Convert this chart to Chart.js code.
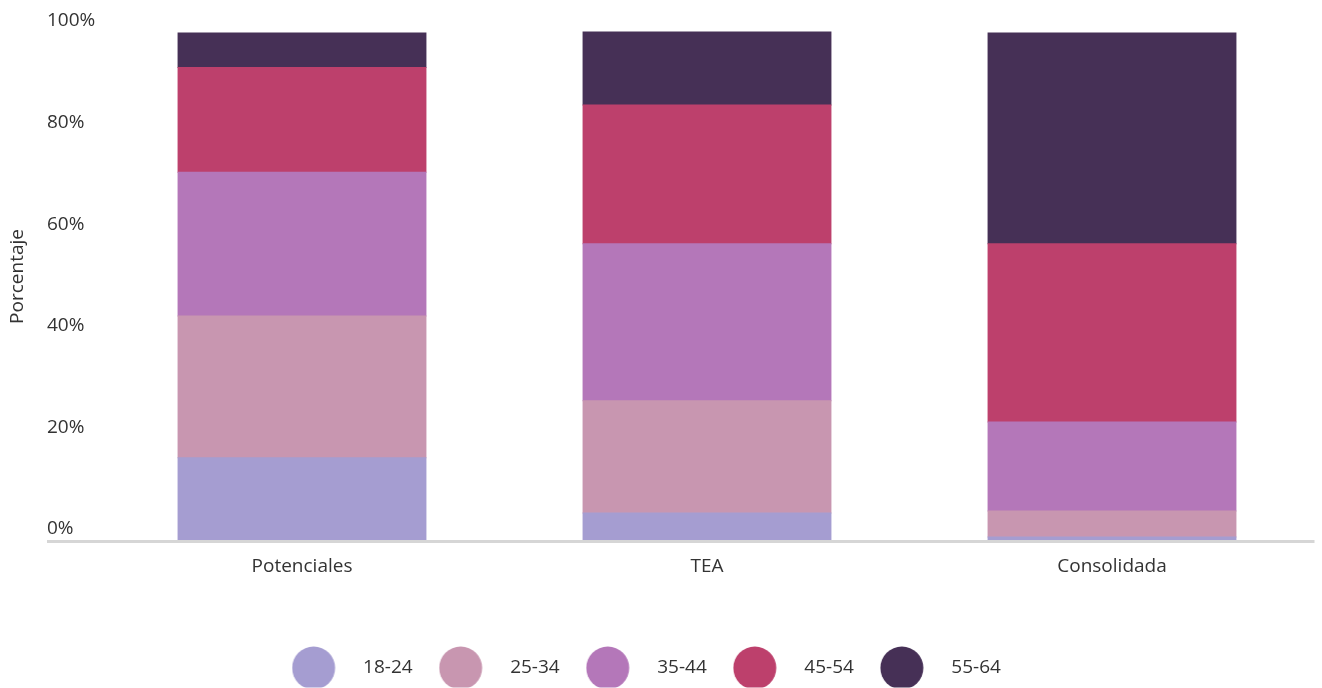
<!DOCTYPE html>
<html>
<head>
<meta charset="utf-8">
<script src="https://cdn.jsdelivr.net/npm/chart.js@4.4.1/dist/chart.umd.min.js"></script>
<style>
html,body{margin:0;padding:0;background:#fff;}
#wrap{width:1322px;height:688px;}
</style>
</head>
<body>
<div id="wrap"><canvas id="c" width="1322" height="688"></canvas></div>
<script>
const categories = ['Potenciales', 'TEA', 'Consolidada'];
const seriesNames = ['18-24', '25-34', '35-44', '45-54', '55-64'];
const s18_24 = [16.4, 5.5, 0.8];
const s25_34 = [27.9, 22.1, 5.1];
const s35_44 = [28.3, 30.9, 17.5];
const s45_54 = [20.6, 27.3, 35.1];
const s55_64 = [6.8, 14.4, 41.5];
const yTicks = [0, 20, 40, 60, 80, 100];
const yTitle = 'Porcentaje';

const colors = ['#a59dd1', '#c896b0', '#b477b9', '#bd406c', '#463056'];
const seriesValues = [s18_24, s25_34, s35_44, s45_54, s55_64];
const TEXT = '#333333';
const FONT = "'Open Sans', sans-serif";

Chart.defaults.font.family = FONT;
Chart.defaults.font.size = 19;
Chart.defaults.color = TEXT;

function circleImage(color) {
  const c = document.createElement('canvas');
  c.width = 84; c.height = 46;
  const g = c.getContext('2d');
  g.fillStyle = color;
  g.beginPath();
  g.arc(22, 23, 21.5, 0, Math.PI * 2);
  g.fill();
  return c;
}
const legendImages = colors.map(circleImage);

const datasets = seriesNames.map((name, i) => ({
  label: name,
  data: seriesValues[i],
  backgroundColor: colors[i],
  borderWidth: 0,
  inflateAmount: 0.5,
  barPercentage: 0.612,
  categoryPercentage: 1.0
}));

new Chart(document.getElementById('c'), {
  type: 'bar',
  data: { labels: categories, datasets: datasets },
  options: {
    responsive: false,
    animation: false,
    layout: { padding: { top: 12, right: 7.5, bottom: 0.5, left: 0 } },
    plugins: {
      tooltip: { enabled: false },
      legend: {
        position: 'bottom',
        labels: {
          usePointStyle: true,
          pointStyleWidth: 40,
          padding: 48,
          color: TEXT,
          font: { size: 19, family: FONT },
          generateLabels: (chart) => {
            const items = Chart.defaults.plugins.legend.labels.generateLabels(chart);
            items.forEach((it, i) => { it.pointStyle = legendImages[i]; });
            return items;
          }
        }
      }
    },
    scales: {
      x: {
        stacked: true,
        grid: { display: false, drawTicks: false },
        border: { display: false },
        ticks: { padding: 14, color: TEXT, font: { size: 19 } },
        afterFit: (s) => { s.height = 69.5; }
      },
      y: {
        stacked: true,
        position: 'left',
        weight: 0,
        min: 0,
        max: 104.13,
        afterBuildTicks: (s) => { s.ticks = yTicks.map(v => ({ value: v })); },
        border: { display: false },
        grid: {
          z: 1,
          lineWidth: 3,
          tickLength: 52.5,
          drawTicks: true,
          color: (ctx) => (ctx.tick && ctx.tick.value === 0) ? '#d6d6d6' : 'rgba(0,0,0,0)',
          tickColor: (ctx) => (ctx.tick && ctx.tick.value === 0) ? '#d6d6d6' : 'rgba(0,0,0,0)'
        },
        ticks: {
          crossAlign: 'far',
          labelOffset: -12,
          padding: 0,
          color: TEXT,
          font: { size: 19 },
          callback: (v) => v + '%'
        },
        afterFit: (s) => { s.width = 52.5; }
      },
      yTitleAxis: {
        type: 'linear',
        position: 'left',
        weight: 1,
        grid: { display: false, drawTicks: false },
        border: { display: false },
        ticks: { display: false },
        title: {
          display: true,
          text: yTitle,
          color: TEXT,
          font: { size: 19 },
          padding: { top: 6, bottom: 0 }
        },
        afterFit: (s) => { s.width = 47; }
      }
    }
  }
});
</script>
</body>
</html>
